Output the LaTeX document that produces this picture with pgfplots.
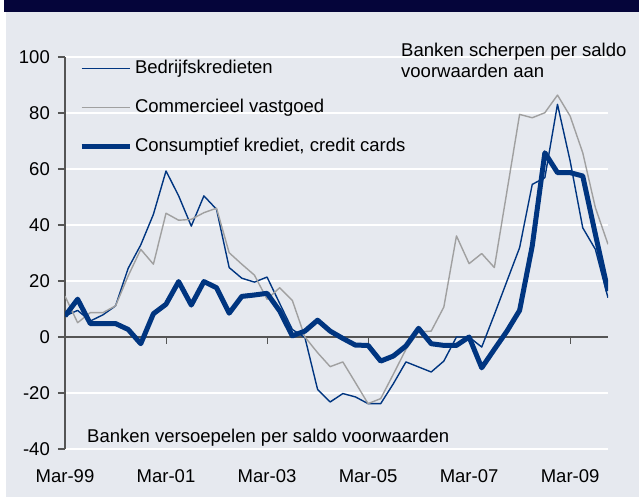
\documentclass[border=0pt]{standalone}
\usepackage{pgfplots}
\pgfplotsset{compat=1.18}
\usepackage{fontspec}
\setmainfont{Liberation Sans}
\definecolor{navy}{HTML}{003580}
\definecolor{gline}{HTML}{A0A0A0}
\definecolor{bgc}{HTML}{E6E9EF}
\definecolor{hdr}{HTML}{05053A}
\definecolor{axg}{HTML}{555555}
\newcommand\f{\fontsize{18.5bp}{20.5bp}\selectfont}
\begin{document}
\begin{tikzpicture}
\path[use as bounding box] (0,0) rectangle (639bp,499bp);
\fill[white] (0,0) rectangle (639bp,499bp);
\fill[bgc] (6bp,2bp) rectangle (639bp,487bp);
\fill[hdr] (4bp,487bp) rectangle (639bp,499bp);
\begin{axis}[
  at={(65bp,50bp)}, anchor=south west,
  scale only axis, width=543bp, height=392bp,
  xmin=0, xmax=43, ymin=-40, ymax=100,
  axis x line*=bottom, axis y line*=left,
  x axis line style={draw=none},
  y axis line style={axg, line width=1.2bp},
  tick align=outside,
  major tick length=7bp,
  xtick={0,8,16,24,32,40},
  xticklabels={Mar-99,Mar-01,Mar-03,Mar-05,Mar-07,Mar-09},
  x tick style={draw=none},
  y tick style={axg, line width=1.2bp},
  ytick={-40,-20,0,20,40,60,80,100},
  ymajorgrids,
  major grid style={white, line width=1.6bp},
  /pgf/number format/assume math mode=true,
  tick label style={font=\f},
  yticklabel style={inner sep=0pt, xshift=-8bp},
  xticklabel style={anchor=base, yshift=-26bp},
  legend cell align=left,
  legend style={at={(rel axis cs:0.0258,0.9929)}, anchor=north west,
    draw=none, fill=none, inner sep=0pt, outer sep=0pt,
    font=\f, row sep=21.5bp, column sep=3bp,
    nodes={inner sep=0pt, text height=13.5bp, text depth=4bp}},
  legend image code/.code={\draw[#1] (0bp,0bp) -- (48bp,0bp);},
]
\draw[axg, line width=1.2bp] (axis cs:0,0) -- (axis cs:43,0);
\pgfplotsinvokeforeach{8,16,24,32,40}{\draw[axg, line width=1bp] (axis cs:#1,0) -- ++(0bp,-7bp);}
\addplot[navy, line width=1.4bp, line join=round] coordinates {
(0,7.5)(1,9.5)(2,5.7)(3,7.9)(4,11.1)(5,24.5)(6,32.9)(7,43.8)(8,59.3)(9,50.4)
(10,39.6)(11,50.4)(12,45.6)(13,24.8)(14,21.0)(15,19.6)(16,21.4)(17,12.0)(18,2.7)(19,-0.2)
(20,-18.7)(21,-23.2)(22,-20.2)(23,-21.4)(24,-23.8)(25,-23.8)(26,-16.7)(27,-8.9)(28,-10.7)(29,-12.5)
(30,-8.6)(31,0.0)(32,0.0)(33,-3.6)(34,8.0)(35,20.0)(36,31.9)(37,54.5)(38,56.9)(39,83.1)
(40,62.9)(41,39.0)(42,31.3)(43,14.0)};
\addlegendentry{Bedrijfskredieten}
\addplot[gline, line width=1.4bp, line join=round] coordinates {
(0,14.6)(1,5.1)(2,8.7)(3,8.7)(4,11.1)(5,21.8)(6,31.3)(7,26.0)(8,44.2)(9,41.7)
(10,42.0)(11,44.4)(12,46.0)(13,30.1)(14,26.0)(15,22.1)(16,13.5)(17,17.6)(18,13.1)(19,0.0)
(20,-5.6)(21,-10.6)(22,-8.9)(23,-16.3)(24,-23.8)(25,-22.0)(26,-13.3)(27,-4.4)(28,1.8)(29,2.1)
(30,10.7)(31,36.1)(32,26.2)(33,29.8)(34,24.8)(35,52.1)(36,79.5)(37,78.3)(38,80.1)(39,86.4)
(40,78.9)(41,65.8)(42,46.2)(43,33.1)};
\addlegendentry{Commercieel vastgoed}
\addplot[navy, line width=5bp, line join=round] coordinates {
(0,7.5)(1,13.5)(2,4.8)(3,4.8)(4,4.8)(5,2.7)(6,-2.4)(7,8.3)(8,11.7)(9,19.8)
(10,11.4)(11,19.8)(12,17.6)(13,8.5)(14,14.5)(15,15.0)(16,15.6)(17,9.3)(18,0.4)(19,2.1)
(20,6.0)(21,2.1)(22,-0.5)(23,-2.9)(24,-3.0)(25,-8.6)(26,-6.8)(27,-3.2)(28,3.1)(29,-2.4)
(30,-3.0)(31,-3.0)(32,0.0)(33,-11.0)(34,-4.4)(35,2.1)(36,9.5)(37,32.5)(38,65.8)(39,58.7)
(40,58.7)(41,57.5)(42,36.7)(43,16.4)};
\addlegendentry{Consumptief krediet, credit cards}
\end{axis}
\node[anchor=base west, inner sep=0pt, font=\f] at (401bp,442.3bp) {Banken scherpen per saldo};
\node[anchor=base west, inner sep=0pt, font=\f] at (401bp,421.8bp) {voorwaarden aan};
\node[anchor=base west, inner sep=0pt, font=\f] at (87bp,56.7bp) {Banken versoepelen per saldo voorwaarden};
\end{tikzpicture}
\end{document}
